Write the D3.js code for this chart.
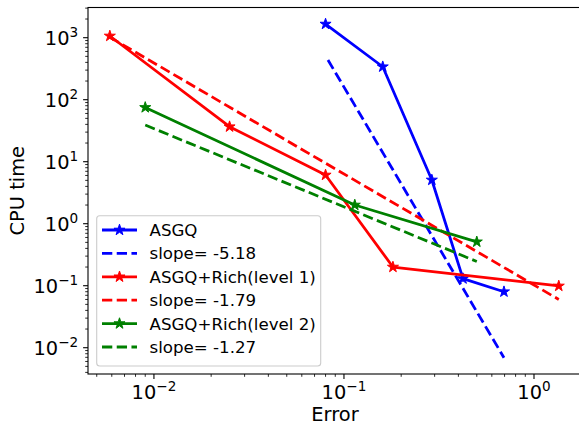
<!DOCTYPE html>
<html>
<head>
<meta charset="utf-8">
<script src="https://cdn.jsdelivr.net/npm/d3@7"></script>
<style>
  body { margin: 0; background: #fff; }
  svg { display: block; font-family: "DejaVu Sans", sans-serif; }
</style>
</head>
<body>
<svg width="579" height="426"></svg>
<script>
const asgqErr = [0.080, 0.160, 0.29, 0.423, 0.695];
const asgqTime = [1660, 340, 5.07, 0.13, 0.08];
const asgqFitErr = [0.0824, 0.695];
const asgqFitTime = [437, 0.0069];

const rich1Err = [0.00586, 0.025, 0.08, 0.181, 1.35];
const rich1Time = [1065, 36.7, 6.1, 0.2, 0.099];
const rich1FitErr = [0.00586, 1.35];
const rich1FitTime = [1019, 0.06];

const rich2Err = [0.009, 0.114, 0.5];
const rich2Time = [75, 2.0, 0.51];
const rich2FitErr = [0.009, 0.5];
const rich2FitTime = [39, 0.246];

const xTickExp = [-2, -1, 0];
const yTickExp = [-2, -1, 0, 1, 2, 3];

const labels = ["ASGQ", "slope= -5.18", "ASGQ+Rich(level 1)", "slope= -1.79", "ASGQ+Rich(level 2)", "slope= -1.27"];

const plotLeft = 88, plotRight = 582, plotTop = 7.5, plotBottom = 374;

const svg = d3.select("svg");

const x = d3.scaleLog()
  .domain([Math.pow(10, -2.347), Math.pow(10, 0.2526)])
  .range([plotLeft, plotRight]);
const y = d3.scaleLog()
  .domain([Math.pow(10, -2.424), Math.pow(10, 3.487)])
  .range([plotBottom, plotTop]);

const zip = (a, b) => a.map((v, i) => [v, b[i]]);

const series = [
  { pts: zip(asgqErr, asgqTime), color: "#0000ff", dash: false, marker: true },
  { pts: zip(asgqFitErr, asgqFitTime), color: "#0000ff", dash: true, marker: false },
  { pts: zip(rich1Err, rich1Time), color: "#ff0000", dash: false, marker: true },
  { pts: zip(rich1FitErr, rich1FitTime), color: "#ff0000", dash: true, marker: false },
  { pts: zip(rich2Err, rich2Time), color: "#008000", dash: false, marker: true },
  { pts: zip(rich2FitErr, rich2FitTime), color: "#008000", dash: true, marker: false }
];

const lw = 2.78;
const dashArr = `${3.7 * lw},${1.6 * lw}`;
const star = d3.symbol().type(d3.symbolStar).size(38);

svg.append("defs").append("clipPath").attr("id", "clip")
  .append("rect").attr("x", plotLeft).attr("y", plotTop)
  .attr("width", plotRight - plotLeft).attr("height", plotBottom - plotTop);

const plot = svg.append("g").attr("clip-path", "url(#clip)");
const line = d3.line().x(d => x(d[0])).y(d => y(d[1]));

series.forEach(s => {
  plot.append("path")
    .attr("d", line(s.pts))
    .attr("fill", "none")
    .attr("stroke", s.color)
    .attr("stroke-width", lw)
    .attr("stroke-linejoin", "round")
    .attr("stroke-dasharray", s.dash ? dashArr : null);
  if (s.marker) {
    plot.selectAll(null)
      .data(s.pts)
      .enter()
      .append("path")
      .attr("d", star)
      .attr("transform", d => `translate(${x(d[0])},${y(d[1])})`)
      .attr("fill", s.color)
      .attr("stroke", s.color)
      .attr("stroke-width", 1);
  }
});

// ticks
const minor = (scale) => {
  const [a, b] = scale.domain();
  const out = [];
  for (let e = Math.floor(Math.log10(a)); e <= Math.ceil(Math.log10(b)); e++) {
    for (let m = 2; m <= 9; m++) {
      const v = m * Math.pow(10, e);
      if (v >= a && v <= b) out.push(v);
    }
  }
  return out;
};

const axes = svg.append("g").attr("stroke", "#000");
minor(x).forEach(v => {
  axes.append("line").attr("x1", x(v)).attr("x2", x(v)).attr("y1", plotBottom).attr("y2", plotBottom + 2.8).attr("stroke-width", 0.83);
});
minor(y).forEach(v => {
  axes.append("line").attr("y1", y(v)).attr("y2", y(v)).attr("x1", plotLeft).attr("x2", plotLeft - 2.8).attr("stroke-width", 0.83);
});
xTickExp.forEach(e => {
  const px = x(Math.pow(10, e));
  axes.append("line").attr("x1", px).attr("x2", px).attr("y1", plotBottom).attr("y2", plotBottom + 4.9).attr("stroke-width", 1.1);
});
yTickExp.forEach(e => {
  const py = y(Math.pow(10, e));
  axes.append("line").attr("y1", py).attr("y2", py).attr("x1", plotLeft).attr("x2", plotLeft - 4.9).attr("stroke-width", 1.1);
});

const expText = (e) => (e < 0 ? "\u2212" + (-e) : "" + e);

xTickExp.forEach(e => {
  const t = svg.append("text")
    .attr("x", x(Math.pow(10, e)))
    .attr("y", 399)
    .attr("text-anchor", "middle")
    .attr("font-size", 19.4)
    .attr("fill", "#000");
  t.append("tspan").text("10");
  t.append("tspan").attr("dy", -8.3).attr("font-size", 13.6).text(expText(e));
});

yTickExp.forEach(e => {
  const t = svg.append("text")
    .attr("x", plotLeft - 9.8)
    .attr("y", y(Math.pow(10, e)) + 7.3)
    .attr("text-anchor", "end")
    .attr("font-size", 19.4)
    .attr("fill", "#000");
  t.append("tspan").text("10");
  t.append("tspan").attr("dy", -8.3).attr("font-size", 13.6).text(expText(e));
});

// spines
svg.append("rect")
  .attr("x", plotLeft).attr("y", plotTop)
  .attr("width", plotRight - plotLeft).attr("height", plotBottom - plotTop)
  .attr("fill", "none").attr("stroke", "#000").attr("stroke-width", 1.1);

// axis labels
svg.append("text")
  .attr("x", (plotLeft + plotRight) / 2).attr("y", 421)
  .attr("text-anchor", "middle").attr("font-size", 19.4)
  .text("Error");
svg.append("text")
  .attr("transform", `translate(23.5,${(plotTop + plotBottom) / 2}) rotate(-90)`)
  .attr("text-anchor", "middle").attr("font-size", 19.4)
  .text("CPU time");

// legend
const legend = svg.append("g");
legend.append("rect")
  .attr("x", 96.7).attr("y", 215.7)
  .attr("width", 224).attr("height", 150.3)
  .attr("rx", 3)
  .attr("fill", "#fff").attr("fill-opacity", 0.8)
  .attr("stroke", "#cccccc").attr("stroke-width", 1.1);

series.forEach((s, i) => {
  const cy = 230 + i * 23.4;
  legend.append("line")
    .attr("x1", 102).attr("x2", 137).attr("y1", cy).attr("y2", cy)
    .attr("stroke", s.color).attr("stroke-width", lw)
    .attr("stroke-dasharray", s.dash ? dashArr : null);
  if (s.marker) {
    legend.append("path")
      .attr("d", star)
      .attr("transform", `translate(119.5,${cy})`)
      .attr("fill", s.color).attr("stroke", s.color).attr("stroke-width", 1);
  }
  legend.append("text")
    .attr("x", 149.5).attr("y", cy + 6)
    .attr("font-size", 16.67)
    .attr("fill", "#000")
    .text(labels[i]);
});
</script>
</body>
</html>
